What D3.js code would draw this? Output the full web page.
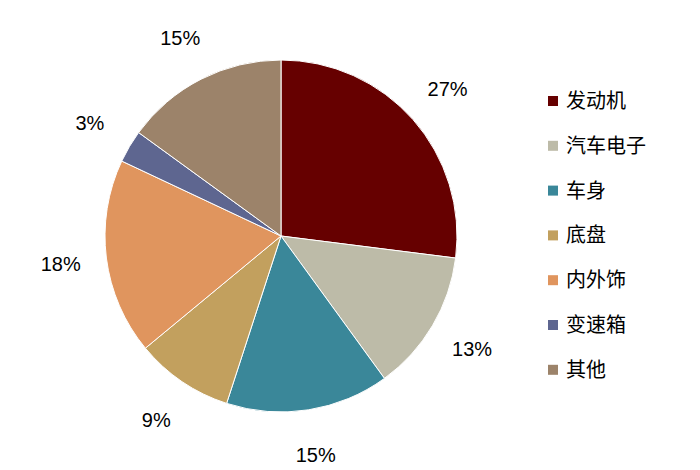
<!DOCTYPE html><html><head><meta charset="utf-8"><script src="https://cdn.jsdelivr.net/npm/d3@7"></script>
<style>body{margin:0;background:#fff}</style></head><body><svg width="700" height="470"></svg><script>
const categories=["发动机","汽车电子","车身","底盘","内外饰","变速箱","其他"];
const values=[27,13,15,9,18,3,15];
const colors=["#660000","#BDBBA8","#3A8799","#C2A05E","#E0955E","#5E6690","#9C836A"];
const svg=d3.select("svg");
const g=svg.append("g").attr("transform","translate(281,236)");
const pie=d3.pie().sort(null)(values);
const arc=d3.arc().innerRadius(0).outerRadius(176);
const la=d3.arc().innerRadius(222).outerRadius(222);
g.selectAll("path").data(pie).join("path").attr("d",arc).attr("fill",(d,i)=>colors[i]).attr("stroke","#fff").attr("stroke-width",1);
g.selectAll("text").data(pie).join("text").attr("transform",d=>`translate(${la.centroid(d)})`)
 .attr("text-anchor","middle").attr("dy","0.35em").style("font","20px 'Liberation Sans',Arial,sans-serif").attr("fill","#000").text(d=>d.value+"%");
const lg=svg.append("g");
categories.forEach((c,i)=>{const y=101+i*44.8;
 lg.append("rect").attr("x",548).attr("y",y-5).attr("width",10).attr("height",10).attr("fill",colors[i]);
 lg.append("text").attr("x",566).attr("y",y).attr("dy","0.35em").style("font","20px 'Noto Sans CJK SC',sans-serif").text(c);});
</script></body></html>
